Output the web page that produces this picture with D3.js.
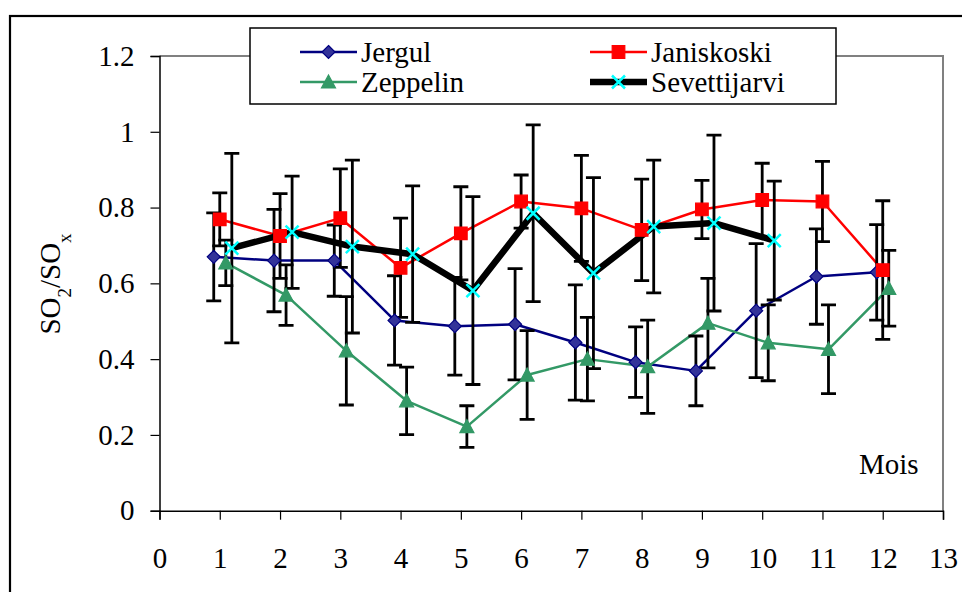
<!DOCTYPE html>
<html>
<head>
<meta charset="utf-8">
<script src="https://cdn.jsdelivr.net/npm/d3@7"></script>
<style>
  html, body { margin: 0; padding: 0; background: #fff; }
  svg { display: block; }
</style>
</head>
<body>
<svg id="chart" width="962" height="592"></svg>
<script>
// ---------------- DATA ----------------
const seriesNames = ["Jergul", "Janiskoski", "Zeppelin", "Sevettijarvi"];
const xTicks = [0,1,2,3,4,5,6,7,8,9,10,11,12,13];
const yTicks = [0, 0.2, 0.4, 0.6, 0.8, 1, 1.2];

const jergulX   = [0.9,1.9,2.9,3.9,4.9,5.9,6.9,7.9,8.9,9.9,10.9,11.9];
const jergulY   = [0.670,0.660,0.660,0.502,0.487,0.492,0.444,0.392,0.369,0.528,0.618,0.629];
const jergulErr = [0.116,0.135,0.094,0.118,0.129,0.147,0.152,0.093,0.092,0.177,0.126,0.126];

const janiskoskiX   = [1,2,3,4,5,6,7,8,9,10,11,12];
const janiskoskiY   = [0.769,0.725,0.772,0.641,0.732,0.816,0.798,0.741,0.795,0.820,0.816,0.635];
const janiskoskiErr = [0.070,0.112,0.130,0.131,0.123,0.070,0.140,0.134,0.077,0.097,0.106,0.183];

const zeppelinX   = [1.1,2.1,3.1,4.1,5.1,6.1,7.1,8.1,9.1,10.1,11.1,12.1];
const zeppelinY   = [0.654,0.569,0.422,0.290,0.222,0.358,0.400,0.380,0.495,0.443,0.426,0.587];
const zeppelinErr = [0.060,0.080,0.143,0.089,0.055,0.117,0.110,0.123,0.118,0.100,0.117,0.100];

const sevettijarviX   = [1.2,2.2,3.2,4.2,5.2,6.2,7.2,8.2,9.2,10.2];
const sevettijarviY   = [0.693,0.735,0.697,0.677,0.581,0.785,0.627,0.750,0.759,0.713];
const sevettijarviErr = [0.250,0.148,0.228,0.180,0.248,0.233,0.252,0.175,0.232,0.157];

const xLabel = "Mois";

// ---------------- LAYOUT / STYLE ----------------
const FF = "'Liberation Serif', 'Times New Roman', Tinos, serif";
const svg = d3.select("#chart").style("font-family", FF);
const FONT = 29;
const plot = { left: 159.5, right: 943, top: 56, bottom: 510.7 };

const x = d3.scaleLinear().domain([0, 13]).range([plot.left, plot.right]);
const y = d3.scaleLinear().domain([0, 1.2]).range([plot.bottom, plot.top]);

const styles = {
  "Jergul":       { line: "#000080", width: 2.5, marker: "diamond",  fill: "#333399", stroke: "#000080" },
  "Janiskoski":   { line: "#FF0000", width: 2.5, marker: "square",   fill: "#FF0000", stroke: "#FF0000" },
  "Zeppelin":     { line: "#339966", width: 2.5, marker: "triangle", fill: "#339966", stroke: "#339966" },
  "Sevettijarvi": { line: "#000000", width: 6.5, marker: "x",        fill: "none",    stroke: "#00FFFF" }
};

const series = [
  { name: "Jergul",       xs: jergulX,        ys: jergulY,        err: jergulErr },
  { name: "Janiskoski",   xs: janiskoskiX,    ys: janiskoskiY,    err: janiskoskiErr },
  { name: "Zeppelin",     xs: zeppelinX,      ys: zeppelinY,      err: zeppelinErr },
  { name: "Sevettijarvi", xs: sevettijarviX,  ys: sevettijarviY,  err: sevettijarviErr }
].map(s => ({ ...s, pts: s.xs.map((xv, i) => ({ x: xv, y: s.ys[i], e: s.err[i] })) }));

function styleText(sel) {
  return sel.style("font-family", FF).style("font-size", FONT + "px").attr("fill", "#000");
}

// Outer chart frame
svg.append("rect").attr("x", 10).attr("y", 16).attr("width", 1000).attr("height", 700)
  .attr("fill", "#fff").attr("stroke", "#000").attr("stroke-width", 2.2);

// Plot area border (gray top/right)
svg.append("path")
  .attr("d", `M${plot.left},${plot.top} H${plot.right} V${plot.bottom}`)
  .attr("fill", "none").attr("stroke", "#808080").attr("stroke-width", 2);

// Axes
const yAxis = d3.axisLeft(y).tickValues(yTicks).tickSize(9).tickPadding(16)
  .tickFormat(d => String(+d.toFixed(1)));
const gy = svg.append("g").attr("transform", `translate(${plot.left},0)`).call(yAxis);
gy.attr("font-family", null).attr("font-size", null);
gy.select(".domain").attr("stroke", "#000").attr("stroke-width", 1.5);
gy.selectAll(".tick line").attr("stroke", "#000").attr("stroke-width", 1.2);
styleText(gy.selectAll("text"));

const xAxis = d3.axisBottom(x).tickValues(xTicks).tickSize(9).tickPadding(28)
  .tickFormat(d3.format("d"));
const gx = svg.append("g").attr("transform", `translate(0,${plot.bottom})`).call(xAxis);
gx.attr("font-family", null).attr("font-size", null);
gx.select(".domain").attr("stroke", "#000").attr("stroke-width", 1.5);
gx.selectAll(".tick line").attr("stroke", "#000").attr("stroke-width", 1.2);
styleText(gx.selectAll("text"));

// Marker path generator
function markerPath(type) {
  switch (type) {
    case "diamond":  return "M0,-6.5L6.5,0L0,6.5L-6.5,0Z";
    case "square":   return "M-6.3,-6.3H6.3V6.3H-6.3Z";
    case "triangle": return "M0,-7L7,6L-7,6Z";
    case "x":        return "M-6.5,-6.5L6.5,6.5M-6.5,6.5L6.5,-6.5";
  }
}

// Lines
const line = d3.line().x(d => x(d.x)).y(d => y(d.y));
series.forEach(s => {
  const st = styles[s.name];
  svg.append("path").datum(s.pts).attr("d", line)
    .attr("fill", "none").attr("stroke", st.line).attr("stroke-width", st.width)
    .attr("stroke-linejoin", "round");
});

// Error bars
const CAP = 7.5;
series.forEach(s => {
  const g = svg.append("g").attr("stroke", "#000").attr("stroke-width", 2.8).attr("fill", "none");
  g.selectAll("path").data(s.pts).join("path")
    .attr("d", d => {
      const cx = x(d.x), yt = y(d.y + d.e), yb = y(d.y - d.e);
      return `M${cx},${yt}V${yb}M${cx - CAP},${yt}H${cx + CAP}M${cx - CAP},${yb}H${cx + CAP}`;
    });
});

// Markers
series.forEach(s => {
  const st = styles[s.name];
  svg.append("g").selectAll("path").data(s.pts).join("path")
    .attr("transform", d => `translate(${x(d.x)},${y(d.y)})`)
    .attr("d", markerPath(st.marker))
    .attr("fill", st.fill).attr("stroke", st.stroke)
    .attr("stroke-width", st.marker === "x" ? 2.5 : 1.2);
});

// Legend
const legend = svg.append("g");
legend.append("rect").attr("x", 250).attr("y", 28).attr("width", 586).attr("height", 76)
  .attr("fill", "#fff").attr("stroke", "#000").attr("stroke-width", 1.5);
const legPos = [
  { x: 300, y: 52 }, { x: 590, y: 52 },
  { x: 300, y: 82 }, { x: 590, y: 82 }
];
seriesNames.forEach((name, i) => {
  const st = styles[name], p = legPos[i];
  legend.append("line").attr("x1", p.x).attr("x2", p.x + 57).attr("y1", p.y).attr("y2", p.y)
    .attr("stroke", st.line).attr("stroke-width", st.width);
  legend.append("path").attr("transform", `translate(${p.x + 28.5},${p.y})`)
    .attr("d", markerPath(st.marker)).attr("fill", st.fill).attr("stroke", st.stroke)
    .attr("stroke-width", st.marker === "x" ? 2.5 : 1.2);
  styleText(legend.append("text").attr("x", p.x + 61).attr("y", p.y).attr("dy", "0.34em").text(name));
});

// Axis titles
styleText(svg.append("text").attr("x", 859).attr("y", 474).text(xLabel));

const yt = styleText(svg.append("text")
  .attr("transform", "translate(60,284) rotate(-90)")
  .attr("text-anchor", "middle"));
yt.append("tspan").text("SO");
yt.append("tspan").attr("baseline-shift", "sub").style("font-size", "19px").text("2");
yt.append("tspan").text("/SO");
yt.append("tspan").attr("baseline-shift", "sub").style("font-size", "19px").text("x");
</script>
</body>
</html>
